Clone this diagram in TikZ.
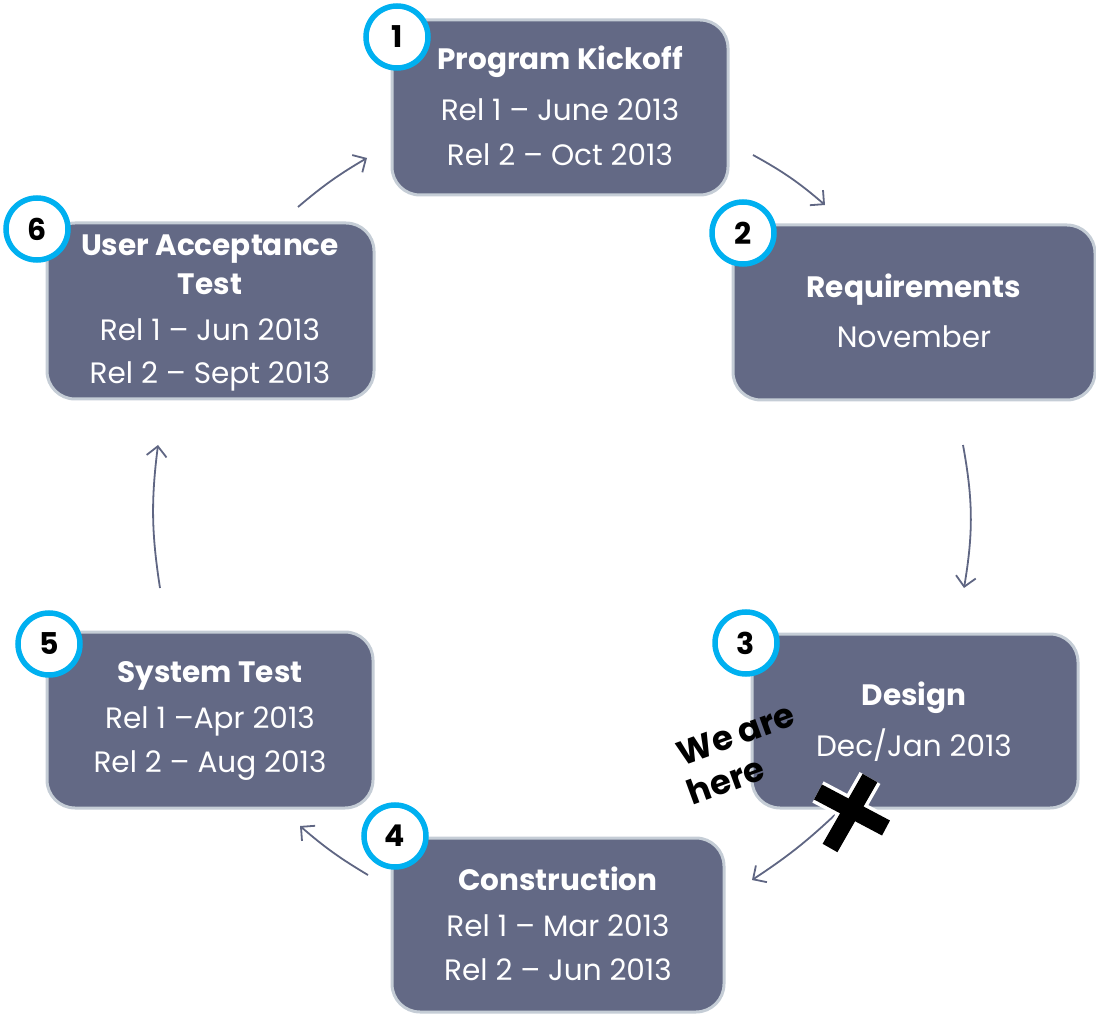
\documentclass[tikz,border=0pt]{standalone}
\usepackage{fontspec}
\setmainfont{Poppins}
\usetikzlibrary{arrows.meta,calc}
\definecolor{boxfill}{HTML}{636985}
\definecolor{boxline}{HTML}{C5CDD6}
\definecolor{ring}{HTML}{00B0F0}
\definecolor{arr}{HTML}{5F6683}
\begin{document}
\begin{tikzpicture}[x=1pt,y=-1pt,
  phase/.style={draw=boxline,line width=3pt,fill=boxfill,rounded corners=28pt,text=white,align=center,inner sep=0pt},
  badge/.style={circle,draw=ring,line width=5.5pt,fill=white,minimum size=62pt,inner sep=0pt,font=\fontsize{30}{30}\selectfont\bfseries},
  flow/.style={draw=arr,line width=1.8pt,-{Straight Barb[length=10pt,width=20pt,line width=1.8pt]}},
  ttl/.style={font=\fontsize{29.5}{29.5}\selectfont\bfseries,text=white},
  dt/.style={font=\fontsize{29.5}{29.5}\selectfont\mdseries,text=white},
  herestyle/.style={rotate=20,font=\fontsize{34}{34}\selectfont\bfseries,text=black,inner sep=1pt}]
\useasboundingbox (0,0) rectangle (1096,1016);
% boxes
\path[phase] (392,20) rectangle (728,195) coordinate (b1);
\path[phase] (733,225) rectangle (1095,400) coordinate (b2);
\path[phase] (752,634) rectangle (1078,808) coordinate (b3);
\path[phase] (392,838) rectangle (724,1012) coordinate (b4);
\path[phase] (47,632) rectangle (373,808) coordinate (b5);
\path[phase] (47,223) rectangle (374,399) coordinate (b6);
% texts
\node[ttl] (t1) at (560,62) {Program Kickoff};
\node[dt] (d1a) at (560,110) {Rel 1 – June 2013};
\node[dt] (d1b) at (560,155) {Rel 2 – Oct 2013};
\node[ttl] (t2) at (914,290) {Requirements};
\node[dt] (d2) at (914,337) {November};
\node[ttl] (t3) at (914,698) {Design};
\node[dt] (d3) at (914,745) {Dec/Jan 2013};
\node[ttl] (t4) at (558,879) {Construction};
\node[dt] (d4a) at (558,926) {Rel 1 – Mar 2013};
\node[dt] (d4b) at (558,970) {Rel 2 – Jun 2013};
\node[ttl] (t5) at (210,676) {System Test};
\node[dt] (d5a) at (210,721) {Rel 1 –Apr 2013};
\node[dt] (d5b) at (210,766) {Rel 2 – Aug 2013};
\node[ttl] (t6a) at (210,249) {User Acceptance};
\node[ttl] (t6b) at (210,284) {Test};
\node[dt] (d6a) at (210,330) {Rel 1 – Jun 2013};
\node[dt] (d6b) at (210,376) {Rel 2 – Sept 2013};
% badges
\node[badge] (n1) at (397,37) {1};
\node[badge] (n2) at (743,233) {2};
\node[badge] (n3) at (746,643) {3};
\node[badge] (n4) at (395,836) {4};
\node[badge] (n5) at (49,644) {5};
\node[badge] (n6) at (37,229) {6};
% arrows
\coordinate (a1s) at (753,155); \coordinate (a1e) at (825,205);
\coordinate (a2s) at (963,445); \coordinate (a2e) at (964,588);
\coordinate (a3s) at (838,812); \coordinate (a3e) at (752,880);
\coordinate (a4s) at (368,875); \coordinate (a4e) at (300,826);
\coordinate (a5s) at (160,588); \coordinate (a5e) at (158,445);
\coordinate (a6s) at (298,207); \coordinate (a6e) at (367,158);
\draw[flow] (a1s) to[bend left=6] (a1e);
\draw[flow] (a2s) to[bend left=10] (a2e);
\draw[flow] (a3s) to[bend left=5] (a3e);
\draw[flow] (a4s) to[bend left=5] (a4e);
\draw[flow] (a5s) to[bend left=8] (a5e);
\draw[flow] (a6s) to[bend left=5] (a6e);
% X mark
\coordinate (x1a) at (818,792); \coordinate (x1b) at (886,828);
\coordinate (x2a) at (870,778); \coordinate (x2b) at (830,848);
\draw[white,line width=24pt] (x1a) -- (x1b) (x2a) -- (x2b);
\draw[black,line width=17pt] (x1a) -- (x1b) (x2a) -- (x2b);
% we are here
\node[herestyle] (here1) at (736,734) {We are};
\node[herestyle] (here2) at (726,780) {here};
\end{tikzpicture}
\end{document}
